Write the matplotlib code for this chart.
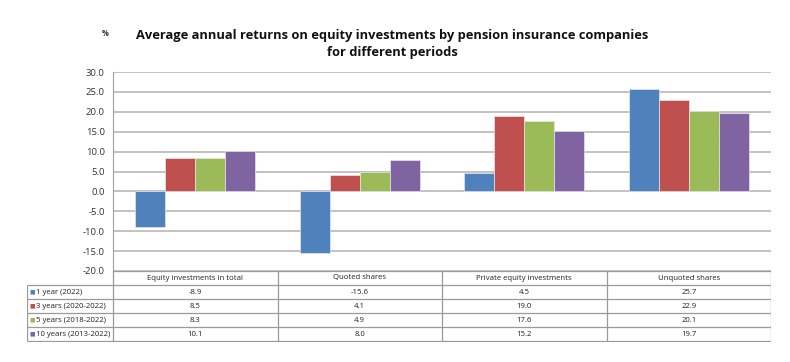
import matplotlib
matplotlib.use("Agg")
import matplotlib.pyplot as plt
import numpy as np

# data
categories = ["Equity investments in total", "Quoted shares",
              "Private equity investments", "Unquoted shares"]
series_names = ["1 year (2022)", "3 years (2020-2022)",
                "5 years (2018-2022)", "10 years (2013-2022)"]
one_year = [-8.9, -15.6, 4.5, 25.7]
three_years = [8.5, 4.1, 19.0, 22.9]
five_years = [8.3, 4.9, 17.6, 20.1]
ten_years = [10.1, 8.0, 15.2, 19.7]
yticks = [-20, -15, -10, -5, 0, 5, 10, 15, 20, 25, 30]

series = [one_year, three_years, five_years, ten_years]
colors = ["#4F81BD", "#C0504D", "#9BBB59", "#8064A2"]

plt.rcParams['font.family'] = ['Open Sans', 'DejaVu Sans']

W, H = 790, 362
fig = plt.figure(figsize=(W / 100, H / 100), dpi=100)

def rect(x0, y0, x1, y1):
    # pixel box (top-left origin) -> figure fraction
    return [x0 / W, 1 - y1 / H, (x1 - x0) / W, (y1 - y0) / H]

# bar chart
ax = fig.add_axes(rect(113, 72, 771, 271))
n = len(categories)
bw = 1 / 5.5
x = np.arange(n)
for i, vals in enumerate(series):
    ax.bar(x + (i - 1.5) * bw, vals, width=bw, color=colors[i],
           edgecolor="#E6E6F0", linewidth=0.5, zorder=3)
ax.set_xlim(-0.5, n - 0.5)
ax.set_ylim(-20, 30)
ax.set_yticks(yticks)
ax.set_yticklabels([f"{v:.1f}" for v in yticks], fontsize=6.8, color="#333333")
ax.set_xticks([])
ax.tick_params(axis='y', length=0, pad=6)
ax.grid(axis='y', color="#BDBDBD", linewidth=1.3, zorder=0)
for s in ["top", "right", "bottom"]:
    ax.spines[s].set_visible(False)
ax.spines["left"].set_color("#A0A0A0")

# data table below the chart
tx = fig.add_axes(rect(27, 271, 771, 342))
tx.set_xlim(27, 771)
tx.set_ylim(342, 271)
tx.axis("off")
col_w = (771 - 113) / n
row_tops = [271, 285, 299, 313, 327, 341]
lc = "#9A9A9A"
tx.hlines(row_tops[0], 113, 771, color=lc, lw=0.9)
tx.hlines(row_tops[1:], 27, 771, color=lc, lw=0.9)
tx.vlines(27, row_tops[1], row_tops[-1], color=lc, lw=0.9)
for j in range(n + 1):
    tx.vlines(113 + j * col_w, row_tops[0], row_tops[-1], color=lc, lw=0.9)
fs = 5.6
for j, c in enumerate(categories):
    tx.text(113 + (j + 0.5) * col_w, (row_tops[0] + row_tops[1]) / 2, c,
            ha="center", va="center", fontsize=fs, color="#222222")
for i, name in enumerate(series_names):
    yc = (row_tops[i + 1] + row_tops[i + 2]) / 2
    tx.text(29, yc, "■", ha="left", va="center", fontsize=4.2,
            color=colors[i], family=['DejaVu Sans'])
    tx.text(35.5, yc, name, ha="left", va="center", fontsize=fs, color="#222222")
    for j, v in enumerate(series[i]):
        tx.text(113 + (j + 0.5) * col_w, yc, f"{v:.1f}", ha="center",
                va="center", fontsize=fs, color="#222222")

# titles
fig.text(105 / W, 1 - 34 / H, "%", ha="center", va="center", fontsize=5.5,
         fontweight="bold", color="#333333")
fig.text(392 / W, 1 - 44 / H,
         "Average annual returns on equity investments by pension insurance companies\nfor different periods",
         ha="center", va="center", fontsize=9.3, fontweight="bold",
         linespacing=1.45, color="#111111")

fig.savefig("out.png", dpi=100)
